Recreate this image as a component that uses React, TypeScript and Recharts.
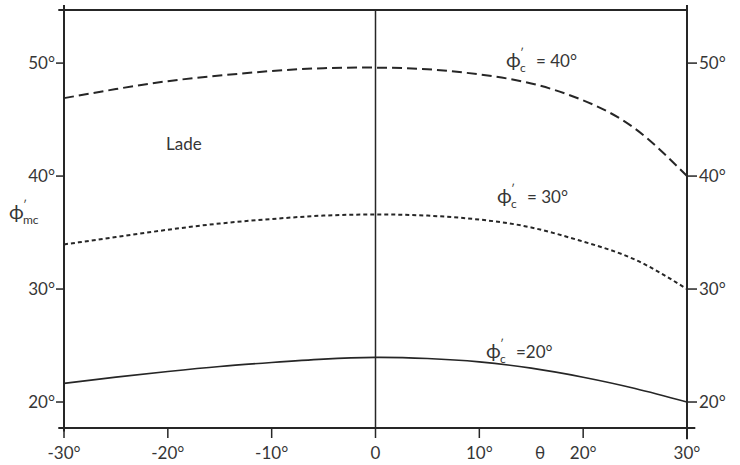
import { LineChart, Line, XAxis, YAxis, ReferenceLine } from "recharts";

const thetaDeg = [-30, -25, -20, -15, -10, -5, 0, 5, 10, 15, 20, 25, 30];
const phiC40 = [46.9, 47.7, 48.4, 48.9, 49.3, 49.55, 49.6, 49.45, 49.0, 48.2, 46.7, 44.2, 40.0];
const phiC30 = [33.95, 34.6, 35.25, 35.8, 36.2, 36.5, 36.6, 36.5, 36.15, 35.45, 34.2, 32.6, 30.0];
const phiC20 = [21.65, 22.2, 22.7, 23.15, 23.5, 23.8, 23.95, 23.85, 23.55, 23.0, 22.2, 21.2, 20.0];

const xTicks = [-30, -20, -10, 0, 10, 20, 30];
const yTicks = [20, 30, 40, 50];
const yDomain = [17.7, 54.7];

const data = thetaDeg.map((t, i) => ({
  theta: t,
  c40: phiC40[i],
  c30: phiC30[i],
  c20: phiC20[i],
}));

const ink = "#262626";
const textInk = "#363636";
const font = "Lato, 'Open Sans', sans-serif";
const tickStyle = { fontSize: 17, fill: textInk, fontFamily: font, fontWeight: 400 };

const fmtX = (v: number) => (v === 0 ? "0" : `${v}°`);
const fmtY = (v: number) => `${v}°`;

// ϕ with a prime above and a subscript below, then the rest of the label
function PhiLabel({ x, y, sub, rest }: { x: number; y: number; sub: string; rest: string }) {
  return (
    <g fontFamily={font} fill={textInk}>
      <text x={x} y={y} fontSize={20}>ϕ</text>
      <text x={x + 14} y={y - 10} fontSize={12}>′</text>
      <text x={x + 14} y={y + 5} fontSize={12}>{sub}</text>
      {rest ? (
        <text x={x + 16 + sub.length * 8 + 6} y={y} fontSize={17}>{rest}</text>
      ) : null}
    </g>
  );
}

export default function App() {
  return (
    <div style={{ position: "absolute", left: 0, top: 0, width: 740, height: 465, background: "#fff" }}>
      <LineChart
        width={740}
        height={465}
        data={data}
        margin={{ top: 10, right: 0, left: 0, bottom: 0 }}
      >
        <XAxis
          dataKey="theta"
          type="number"
          domain={[-30, 30]}
          ticks={xTicks}
          tickFormatter={fmtX}
          axisLine={false}
          tickLine={{ stroke: ink, strokeWidth: 1.5 }}
          tickSize={10}
          tickMargin={9}
          height={37}
          tick={tickStyle}
          interval={0}
        />
        <YAxis
          yAxisId="left"
          domain={yDomain}
          ticks={yTicks}
          tickFormatter={fmtY}
          axisLine={false}
          tickLine={{ stroke: ink, strokeWidth: 1.5 }}
          tickSize={8}
          tickMargin={1}
          width={64}
          tick={tickStyle}
          interval={0}
        />
        <YAxis
          yAxisId="right"
          orientation="right"
          domain={yDomain}
          ticks={yTicks}
          tickFormatter={fmtY}
          axisLine={false}
          tickLine={{ stroke: ink, strokeWidth: 1.5 }}
          tickSize={10}
          tickMargin={2}
          width={53}
          tick={tickStyle}
          interval={0}
        />
        {/* frame */}
        <ReferenceLine
          yAxisId="left"
          segment={[{ x: -30, y: 55.15 }, { x: -30, y: 17.4 }]}
          stroke={ink}
          strokeWidth={2}
          ifOverflow="visible"
        />
        <ReferenceLine
          yAxisId="left"
          segment={[{ x: 30, y: 55.15 }, { x: 30, y: 16.7 }]}
          stroke={ink}
          strokeWidth={2}
          ifOverflow="visible"
        />
        <ReferenceLine
          yAxisId="left"
          segment={[{ x: -30.55, y: 17.7 }, { x: 30.8, y: 17.7 }]}
          stroke={ink}
          strokeWidth={2}
          ifOverflow="visible"
        />
        <ReferenceLine
          yAxisId="left"
          segment={[{ x: -30.55, y: 54.7 }, { x: 30, y: 54.7 }]}
          stroke={ink}
          strokeWidth={2}
          ifOverflow="visible"
        />
        <ReferenceLine yAxisId="left" x={0} stroke={ink} strokeWidth={1.5} />
        <Line
          yAxisId="left"
          type="natural"
          dataKey="c40"
          stroke={ink}
          strokeWidth={2}
          strokeDasharray="10 5"
          dot={false}
          isAnimationActive={false}
        />
        <Line
          yAxisId="left"
          type="natural"
          dataKey="c30"
          stroke={ink}
          strokeWidth={2}
          strokeDasharray="4 3"
          dot={false}
          isAnimationActive={false}
        />
        <Line
          yAxisId="right"
          type="natural"
          dataKey="c20"
          stroke={ink}
          strokeWidth={1.6}
          dot={false}
          isAnimationActive={false}
        />
      </LineChart>
      <svg
        width={740}
        height={465}
        style={{ position: "absolute", left: 0, top: 0, pointerEvents: "none" }}
      >
        <PhiLabel x={506} y={67} sub="c" rest="= 40°" />
        <PhiLabel x={497} y={203} sub="c" rest="= 30°" />
        <PhiLabel x={486} y={358} sub="c" rest="=20°" />
        <PhiLabel x={9} y={219} sub="mc" rest="" />
        <text x={166} y={150} fontFamily={font} fontSize={17} fill={textInk}>
          Lade
        </text>
        <text x={535} y={459} fontFamily={font} fontSize={17} fill={textInk}>
          θ
        </text>
      </svg>
    </div>
  );
}
